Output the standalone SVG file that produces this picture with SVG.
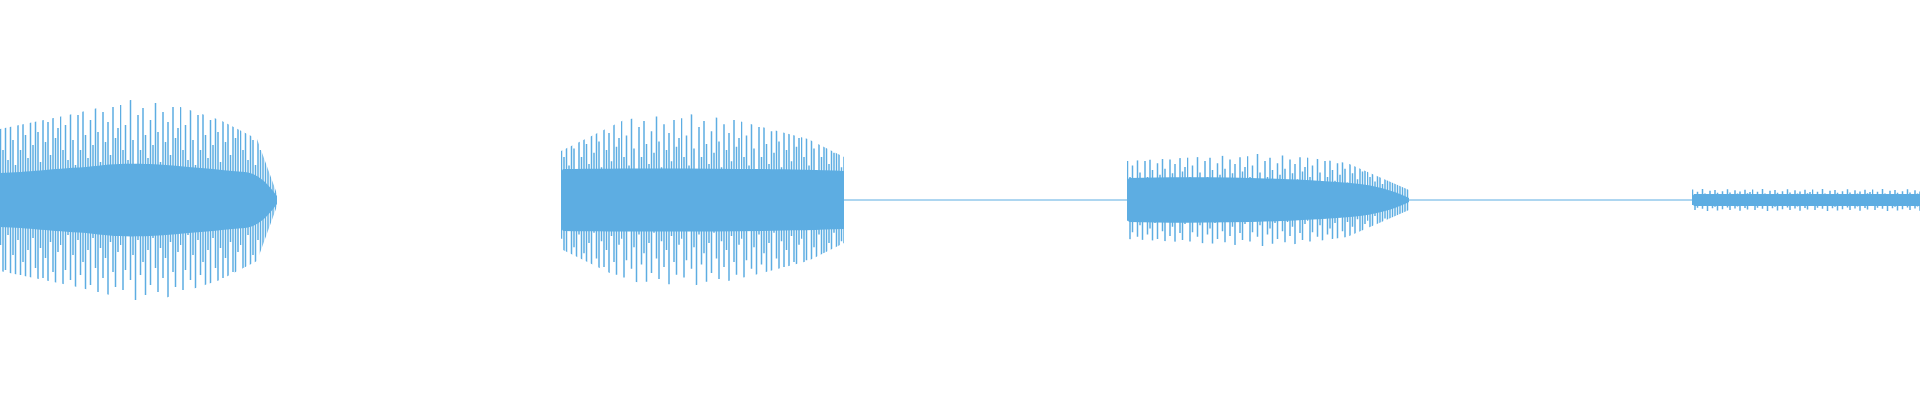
<svg xmlns="http://www.w3.org/2000/svg" width="1920" height="400" viewBox="0 0 1920 400">
<style>
.core{fill:#5dade2}
.thin{stroke:#5dade2;stroke-width:1;fill:none}
.sp{stroke:#5dade2;stroke-width:1.5;fill:none}
</style>
<defs>
<path id="spk" class="sp" d="M0.5 105V245M3 150V290M5.5 125V270M8 160V235M10.5 100V280M13 140V255M15.5 165V300M18 115V240M20.5 150V275M23 108V262M25.5 135V295M28 158V250M30.5 120V285M33 145V238M35.5 103V268M38 132V292M40.5 162V248M43 112V278M45.5 142V258M48 122V298M50.5 155V242M53 107V272M55.5 138V287M58 128V252"/>
<pattern id="p1" patternUnits="userSpaceOnUse" x="0" y="0" width="60" height="400" patternTransform="translate(0,200) scale(1,1) translate(0,-200)"><use href="#spk"/></pattern>
<pattern id="p2" patternUnits="userSpaceOnUse" x="0" y="0" width="60" height="400" patternTransform="translate(561,200) scale(1,0.86) translate(0,-200)"><use href="#spk"/></pattern>
<pattern id="p3" patternUnits="userSpaceOnUse" x="0" y="0" width="60" height="400" patternTransform="translate(1127,200) scale(1,0.46) translate(0,-200)"><use href="#spk"/></pattern>
<pattern id="p4" patternUnits="userSpaceOnUse" x="0" y="0" width="60" height="400" patternTransform="translate(1692,200) scale(1,0.11) translate(0,-200)"><use href="#spk"/></pattern>
<clipPath id="c1"><polygon points="0,129 73,114 147,96 220,120 257,139 277,194 277,206 257,261 220,280 147,304 73,286 0,271"/></clipPath>
<clipPath id="c2"><polygon points="561,151 624,120 673,112 735,120 808,139 844,157 844,243 808,261 735,280 673,288 624,280 561,249"/></clipPath>
<clipPath id="c3"><polygon points="1127,161 1200,157 1273,153 1347,163 1409,190 1409,210 1347,237 1273,247 1200,243 1127,239"/></clipPath>
<clipPath id="c4"><polygon points="1692,188 1920,188 1920,212 1692,212"/></clipPath>
</defs>
<g id="connectors">
<path class="thin" d="M844 200H1127M1409 200H1692"/>
</g>
<g id="burst1">
<rect x="0" y="90" width="278" height="220" fill="url(#p1)" clip-path="url(#c1)"/>
<path class="core" d="M0 173 C30 172 49 169 86 167 C110 164 122 163 150 164 C184 166 220 170 245 172 C262 174 272 190 277 196 V204 C272 210 262 226 245 228 C220 230 184 234 150 236 C122 237 110 236 86 233 C49 231 30 228 0 227Z"/>
</g>
<g id="burst2">
<rect x="561" y="100" width="284" height="200" fill="url(#p2)" clip-path="url(#c2)"/>
<path class="core" d="M563 169 L561 172 V228 L563 231 C640 232 760 232 844 229 V171 C760 168 640 168 563 169Z"/>
</g>
<g id="burst3">
<rect x="1127" y="150" width="283" height="100" fill="url(#p3)" clip-path="url(#c3)"/>
<path class="core" d="M1129 178 L1127 181 V219 L1129 222 C1200 224 1300 222 1360 216 C1385 213 1400 206 1409 202 V198 C1400 194 1385 187 1360 184 C1300 178 1200 176 1129 178Z"/>
</g>
<g id="burst4">
<rect x="1692" y="185" width="228" height="30" fill="url(#p4)" clip-path="url(#c4)"/>
<path class="core" d="M1694 194 L1692 197 V203 L1694 206 H1920 V194Z"/>
</g>
</svg>
